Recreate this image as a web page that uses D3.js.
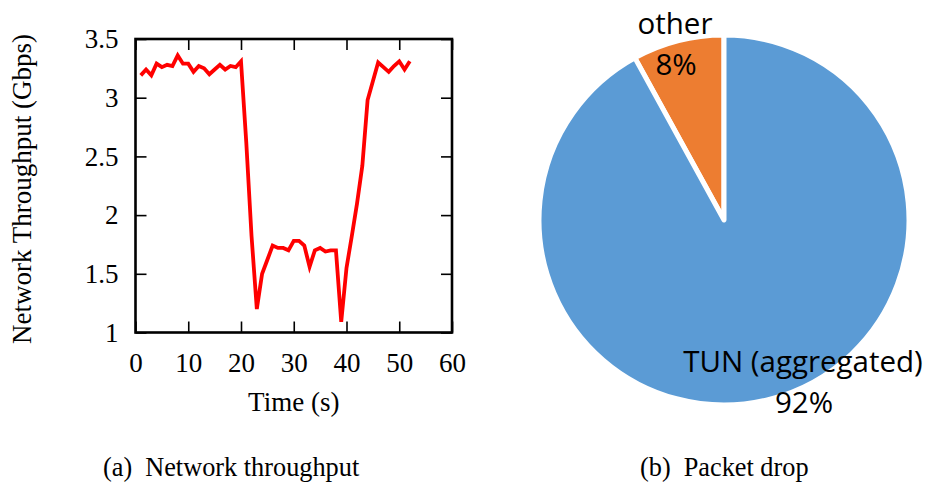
<!DOCTYPE html>
<html>
<head>
<meta charset="utf-8">
<script src="https://cdn.jsdelivr.net/npm/d3@7"></script>
<style>
  html, body { margin: 0; padding: 0; background: #fff; }
  svg { display: block; }
</style>
</head>
<body>
<svg id="fig" width="928" height="484"></svg>
<script>
// (a) Network throughput over time
const timeSec = [1,2,3,4,5,6,7,8,9,10,11,12,13,14,15,16,17,18,19,20,
  21,22,23,24,25,26,27,28,29,30,31,32,33,34,35,36,37,38,39,40,
  41,42,43,44,45,46,47,48,49,50,51,52];
const throughputGbps = [3.19,3.24,3.19,3.29,3.26,3.28,3.27,3.36,3.29,3.29,
  3.22,3.27,3.25,3.20,3.24,3.28,3.24,3.27,3.26,3.31,
  2.62,1.82,1.20,1.50,1.62,1.74,1.72,1.72,1.70,1.78,
  1.78,1.74,1.56,1.70,1.72,1.69,1.70,1.70,1.09,1.55,
  1.82,2.10,2.42,2.98,3.14,3.30,3.26,3.22,3.27,3.31,
  3.24,3.31];
const xTicks = [0,10,20,30,40,50,60];
const yTicks = [1,1.5,2,2.5,3,3.5];
const yTickLabels = ["1","1.5","2","2.5","3","3.5"];

// (b) Packet drop breakdown
const dropCategories = ["other","TUN (aggregated)"];
const dropShares = [8,92];
const dropColors = ["#ED7D31","#5B9BD5"];

const svg = d3.select("#fig");
const serif = "'Liberation Serif','Times New Roman',serif";

// ---------- line chart ----------
const x = d3.scaleLinear().domain([0,60]).range([135.5,452]);
const y = d3.scaleLinear().domain([1,3.5]).range([332.5,39]);
const plot = svg.append("g");

const styleAxis = g => {
  g.select(".domain").remove();
  g.selectAll(".tick line").attr("stroke","#000").attr("stroke-width",1.6);
  g.selectAll(".tick text").attr("font-family",serif).attr("font-size",27).attr("fill","#000");
};

plot.append("g").attr("transform",`translate(0,${y(1)})`)
  .call(d3.axisBottom(x).tickValues(xTicks).tickSize(-11).tickPadding(20).tickFormat(d3.format("d")))
  .call(styleAxis);
plot.append("g").attr("transform",`translate(0,${y(3.5)})`)
  .call(d3.axisTop(x).tickValues(xTicks).tickSize(-11).tickFormat(""))
  .call(styleAxis);
plot.append("g").attr("transform",`translate(${x(0)},0)`)
  .call(d3.axisLeft(y).tickValues(yTicks).tickSize(-11).tickPadding(17)
    .tickFormat((d,i) => yTickLabels[i]))
  .call(styleAxis);
plot.append("g").attr("transform",`translate(${x(60)},0)`)
  .call(d3.axisRight(y).tickValues(yTicks).tickSize(-11).tickFormat(""))
  .call(styleAxis);

plot.append("rect")
  .attr("x",x(0)).attr("y",y(3.5))
  .attr("width",x(60)-x(0)).attr("height",y(1)-y(3.5))
  .attr("fill","none").attr("stroke","#000").attr("stroke-width",2.6);

const line = d3.line().x((d,i)=>x(timeSec[i])).y(d=>y(d));
plot.append("path")
  .datum(throughputGbps)
  .attr("d",line)
  .attr("fill","none").attr("stroke","#ff0000")
  .attr("stroke-width",3.8).attr("stroke-linejoin","miter");

plot.append("text")
  .attr("transform",`translate(31,189) rotate(-90)`)
  .attr("text-anchor","middle")
  .attr("font-family",serif).attr("font-size",27)
  .text("Network Throughput (Gbps)");
plot.append("text")
  .attr("x",(x(0)+x(60))/2).attr("y",411)
  .attr("text-anchor","middle")
  .attr("font-family",serif).attr("font-size",27)
  .text("Time (s)");

const capA = svg.append("text").attr("x",103).attr("y",476)
  .attr("font-family",serif).attr("font-size",26.3);
capA.append("tspan").text("(a)");
capA.append("tspan").attr("dx",13).text("Network throughput");

// ---------- pie chart ----------
const cx = 724, cy = 220, r = 185;
const pie = d3.pie().sort(null)
  .startAngle(-2*Math.PI*dropShares[0]/100)
  .endAngle(2*Math.PI*(1-dropShares[0]/100));
const arcs = pie(dropShares);
const arc = d3.arc().innerRadius(0).outerRadius(r);
const pg = svg.append("g").attr("transform",`translate(${cx},${cy})`);
pg.selectAll("path").data(arcs).join("path")
  .attr("d",arc)
  .attr("fill",(d,i)=>dropColors[i])
  .attr("stroke","#fff").attr("stroke-width",5).attr("stroke-linejoin","round");

// data labels: category name above, share below
const labelAnchor = [[-49,-186],[79,152]];
const sans = "'Open Sans','Noto Sans',sans-serif";
arcs.forEach((a,i) => {
  const [lx,ly] = labelAnchor[i];
  const t = pg.append("text").attr("text-anchor","middle")
    .attr("font-family",sans).attr("font-size",29.5).attr("fill","#000");
  t.append("tspan").attr("x",lx).attr("y",ly).text(dropCategories[i]);
  t.append("tspan").attr("x",lx+1).attr("y",ly+41).text(d3.format("d")(a.data)+"%");
});

const capB = svg.append("text").attr("x",640).attr("y",476)
  .attr("font-family",serif).attr("font-size",26.3);
capB.append("tspan").text("(b)");
capB.append("tspan").attr("dx",13).text("Packet drop");
</script>
</body>
</html>
